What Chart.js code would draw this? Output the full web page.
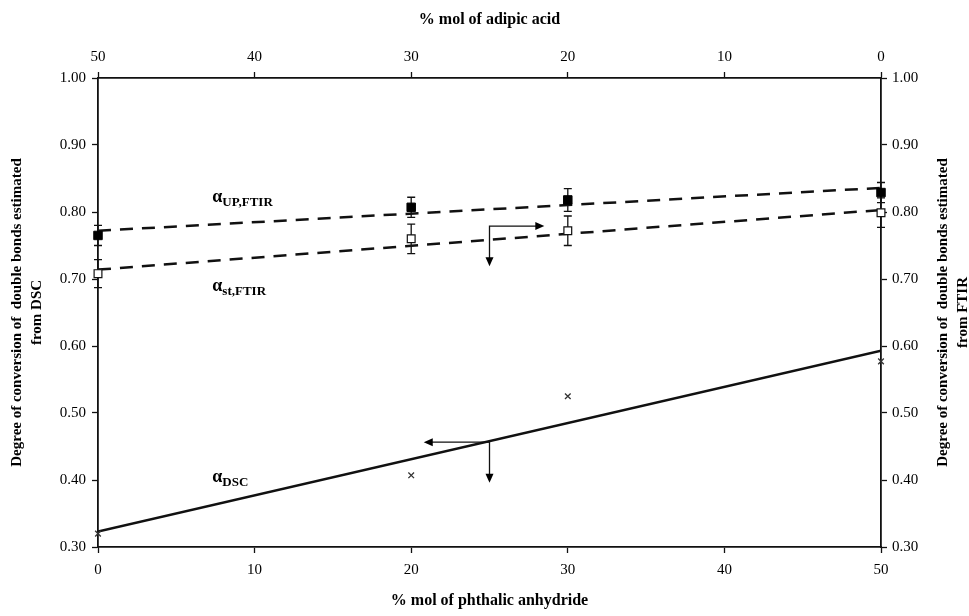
<!DOCTYPE html>
<html>
<head>
<meta charset="utf-8">
<script src="https://cdn.jsdelivr.net/npm/chart.js@4.4.0/dist/chart.umd.min.js"></script>
<style>
html, body { margin: 0; padding: 0; background: #fff; }
#wrap { width: 969px; height: 616px; }
</style>
</head>
<body>
<div id="wrap"><canvas id="conversionChart"></canvas></div>
<script>
// % mol of phthalic anhydride (bottom axis)
const phthalic = [0, 20, 30, 50];
// degrees of conversion
const alphaUpFtir = [0.765, 0.807, 0.818, 0.829];
const alphaStFtir = [0.708, 0.760, 0.772, 0.799];
const alphaDsc = [0.320, 0.407, 0.525, 0.577];
// error bar half widths
const errUpFtir = [0.015, 0.015, 0.017, 0.015];
const errStFtir = [0.021, 0.022, 0.022, 0.022];
// linear trend lines, end points at 0 and 50 %
const trendX = [0, 50];
const trendUp = [0.772, 0.836];
const trendSt = [0.714, 0.803];
const trendDsc = [0.323, 0.593];
// tick labels
const phthalicTicks = [0, 10, 20, 30, 40, 50];
const adipicTicks = [50, 40, 30, 20, 10, 0];
const conversionTicks = [0.30, 0.40, 0.50, 0.60, 0.70, 0.80, 0.90, 1.00];

// labels of the curves and the arrows that point to their axis
const curveLabels = [
    { main: 'α', sub: 'UP,FTIR', x: 7.3, y: 0.822 },
    { main: 'α', sub: 'st,FTIR', x: 7.3, y: 0.689 },
    { main: 'α', sub: 'DSC', x: 7.3, y: 0.404 }
];
const arrows = [
    { x: 25, y: 0.779, toX: 28.5, toY: 0.719 },
    { x: 25, y: 0.4565, toX: 20.8, toY: 0.396 }
];

const serif = "'Liberation Serif', 'Times New Roman', serif";

function pts(xs, ys) {
    return xs.map((v, i) => ({ x: v, y: ys[i] }));
}

const annotations = {
    id: 'annotations',
    beforeDatasetsDraw(chart) {
        const { ctx, scales: { x, y } } = chart;
        ctx.save();
        ctx.strokeStyle = '#111';
        ctx.lineWidth = 1.3;
        const bars = [[alphaUpFtir, errUpFtir], [alphaStFtir, errStFtir]];
        bars.forEach(([vals, errs]) => {
            vals.forEach((v, i) => {
                const px = x.getPixelForValue(phthalic[i]);
                const top = y.getPixelForValue(v + errs[i]);
                const bot = y.getPixelForValue(v - errs[i]);
                ctx.beginPath();
                ctx.moveTo(px, top); ctx.lineTo(px, bot);
                ctx.moveTo(px - 4, top); ctx.lineTo(px + 4, top);
                ctx.moveTo(px - 4, bot); ctx.lineTo(px + 4, bot);
                ctx.stroke();
            });
        });
        ctx.restore();
    },
    afterDatasetsDraw(chart) {
        const { ctx, scales: { x, y } } = chart;
        ctx.save();
        ctx.fillStyle = '#000';
        ctx.textBaseline = 'middle';
        curveLabels.forEach(l => {
            const px = x.getPixelForValue(l.x);
            const py = y.getPixelForValue(l.y);
            ctx.font = 'bold 18px ' + serif;
            ctx.fillText(l.main, px, py);
            const w = ctx.measureText(l.main).width;
            ctx.font = 'bold 13px ' + serif;
            ctx.fillText(l.sub, px + w, py + 5);
        });

        // arrows
        ctx.strokeStyle = '#111';
        ctx.lineWidth = 1.3;
        const head = (tx, ty, dx, dy) => {
            ctx.beginPath();
            ctx.moveTo(tx, ty);
            ctx.lineTo(tx - dx * 9 - dy * 4, ty - dy * 9 + dx * 4);
            ctx.lineTo(tx - dx * 9 + dy * 4, ty - dy * 9 - dx * 4);
            ctx.closePath();
            ctx.fill();
        };
        arrows.forEach(a => {
            const cx = x.getPixelForValue(a.x);
            const cy = y.getPixelForValue(a.y);
            const hx = x.getPixelForValue(a.toX);
            const vy = y.getPixelForValue(a.toY);
            const dir = hx > cx ? 1 : -1;
            ctx.beginPath();
            ctx.moveTo(hx - dir * 8, cy); ctx.lineTo(cx, cy);
            ctx.lineTo(cx, vy - 8);
            ctx.stroke();
            head(hx, cy, dir, 0);
            head(cx, vy, 0, 1);
        });
        ctx.restore();
    },
    afterDraw(chart) {
        // right axis title, reading bottom to top like the left one
        const { ctx, chartArea } = chart;
        ctx.save();
        ctx.fillStyle = '#000';
        ctx.font = 'bold 15px ' + serif;
        ctx.textAlign = 'center';
        ctx.textBaseline = 'middle';
        ctx.translate(chartArea.right + 62, (chartArea.top + chartArea.bottom) / 2);
        ctx.rotate(-Math.PI / 2);
        ctx.fillText('Degree of conversion of  double bonds estimated', 0, 0);
        ctx.fillText('from FTIR', 0, 20);
        ctx.restore();
    }
};

function fixedTicks(list) {
    return function(scale) {
        scale.ticks = list.map(v => ({ value: v }));
    };
}

const axisBase = {
    type: 'linear',
    grid: { display: true, drawOnChartArea: false, drawTicks: true, tickLength: 6, tickWidth: 1.3, color: '#111' },
    border: { display: true, color: '#111', width: 1.8 }
};
const tickFont = { family: serif, size: 15 };
const titleFont = { family: serif, size: 16, weight: 'bold' };

const config = {
    type: 'scatter',
    data: {
        datasets: [
            {
                label: 'α UP,FTIR',
                data: pts(phthalic, alphaUpFtir),
                pointStyle: 'rect', pointRadius: 6,
                backgroundColor: '#000', borderColor: '#000', borderWidth: 1,
                showLine: false, clip: false
            },
            {
                label: 'α st,FTIR',
                data: pts(phthalic, alphaStFtir),
                pointStyle: 'rect', pointRadius: 5.5,
                backgroundColor: '#fff', borderColor: '#111', borderWidth: 1.2,
                showLine: false, clip: false
            },
            {
                label: 'α DSC',
                data: pts(phthalic, alphaDsc),
                pointStyle: 'crossRot', pointRadius: 4,
                borderColor: '#333', borderWidth: 1.3,
                showLine: false, clip: false
            },
            {
                label: 'trend UP',
                data: pts(trendX, trendUp),
                showLine: true, pointRadius: 0,
                borderColor: '#111', borderWidth: 2.5, borderDash: [13, 9]
            },
            {
                label: 'trend st',
                data: pts(trendX, trendSt),
                showLine: true, pointRadius: 0,
                borderColor: '#111', borderWidth: 2.5, borderDash: [13, 9]
            },
            {
                label: 'trend DSC',
                data: pts(trendX, trendDsc),
                showLine: true, pointRadius: 0,
                borderColor: '#111', borderWidth: 2.5
            }
        ]
    },
    options: {
        responsive: true,
        maintainAspectRatio: false,
        animation: false,
        events: [],
        layout: { padding: 0 },
        plugins: { legend: { display: false }, tooltip: { enabled: false } },
        scales: {
            x: Object.assign({}, axisBase, {
                position: 'bottom', min: 0, max: 50,
                afterBuildTicks: fixedTicks(phthalicTicks),
                afterFit: s => { s.height = 69; },
                ticks: { color: '#000', font: tickFont, padding: 8, maxRotation: 0 },
                title: { display: true, text: '% mol of phthalic anhydride', color: '#000', font: titleFont, padding: { top: 0, bottom: 6 } }
            }),
            x2: Object.assign({}, axisBase, {
                position: 'top', min: 0, max: 50, reverse: true,
                afterBuildTicks: fixedTicks(adipicTicks),
                afterFit: s => { s.height = 78; },
                ticks: { color: '#000', font: tickFont, padding: 6, maxRotation: 0 },
                title: { display: true, text: '% mol of adipic acid', color: '#000', font: titleFont, padding: { top: 10, bottom: 0 } }
            }),
            y: Object.assign({}, axisBase, {
                position: 'left', min: 0.3, max: 1.0,
                afterBuildTicks: fixedTicks(conversionTicks),
                afterFit: s => { s.width = 98; },
                ticks: { color: '#000', font: tickFont, padding: 6, callback: v => v.toFixed(2) },
                title: {
                    display: true,
                    text: ['Degree of conversion of  double bonds estimated', 'from DSC'],
                    color: '#000', font: Object.assign({}, titleFont, { size: 15, lineHeight: 1.33 }),
                    padding: { top: 7, bottom: 0 }
                }
            }),
            y2: Object.assign({}, axisBase, {
                position: 'right', min: 0.3, max: 1.0,
                afterBuildTicks: fixedTicks(conversionTicks),
                afterFit: s => { s.width = 88; },
                ticks: { color: '#000', font: tickFont, padding: 5, callback: v => v.toFixed(2) }
            })
        }
    }
};

new Chart(document.getElementById('conversionChart'), Object.assign(config, { plugins: [annotations] }));
</script>
</body>
</html>
